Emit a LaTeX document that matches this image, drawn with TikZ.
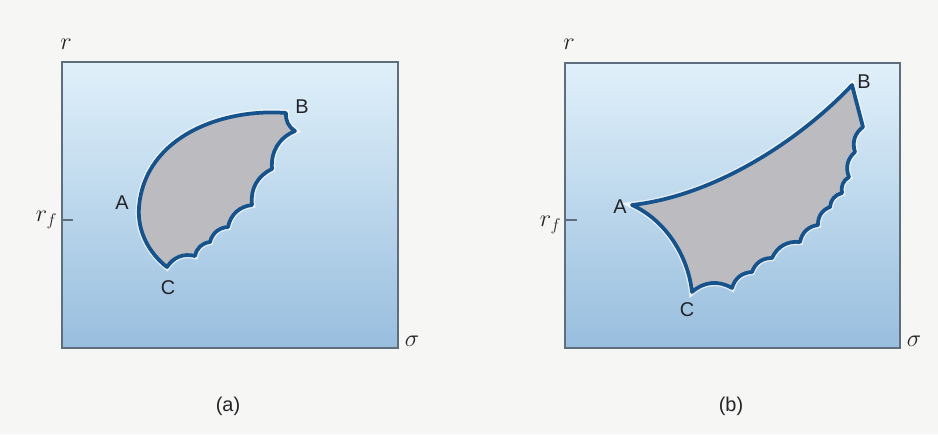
\documentclass[tikz,border=0pt]{standalone}
\usepackage{fontspec}
\setmainfont{Liberation Sans}
\usepackage{tikz}
\usetikzlibrary{positioning, calc}
\definecolor{pagegray}{RGB}{246,246,245}
\definecolor{boxtop}{RGB}{224,240,250}
\definecolor{boxbot}{RGB}{152,190,222}
\definecolor{boxframe}{RGB}{95,110,125}
\definecolor{envblue}{RGB}{22,82,140}
\definecolor{envfill}{RGB}{188,188,192}
\definecolor{txtdark}{RGB}{35,35,40}
\tikzset{
  plotbox/.style={draw=boxframe, line width=1pt, top color=boxtop, bottom color=boxbot},
  envelope/.style={draw=envblue, fill=envfill, line width=3.2pt, line join=round,
    preaction={draw=white, line width=5.4pt, opacity=0.7}},
  ptlabel/.style={font=\fontsize{17}{20}\selectfont, text=txtdark, inner sep=0pt},
  axlabel/.style={font=\fontsize{21}{25}\selectfont, text=txtdark, inner sep=0pt},
  caption/.style={font=\fontsize{17}{20}\selectfont, text=txtdark, inner sep=0pt},
  rftick/.style={draw=boxframe, line width=1pt},
  scallop/.style={bend left=36}
}

\begin{document}
\begin{tikzpicture}[x=0.03cm, y=-0.03cm]
  % ── page ───────────────────────────────────────────────────────────────────
  \fill[pagegray] (0,0) rectangle (938,434);
  \useasboundingbox (0,0) rectangle (938,434);

  % ── (a) plot box and axes ──────────────────────────────────────────────────
  \path[plotbox] (62,62) rectangle (398,348);
  \node[axlabel] (ar) at (66,44) {$r$};
  \node[axlabel] (asig) at (412,341) {$\sigma$};
  \coordinate (atick0) at (62,220);
  \coordinate (atick1) at (73,220);
  \draw[rftick] (atick0) -- (atick1);
  \node[axlabel, left=4pt of atick0] (arf) {$r_f$};

  % ── (a) envelope ───────────────────────────────────────────────────────────
  \coordinate (aB) at (286,113);
  \coordinate (aA) at (139,207);
  \coordinate (aC) at (167,267);
  \path[envelope] (aB) .. controls (225,108) and (145,135) .. (aA)
    .. controls (137,232) and (150,254) .. (aC)
    foreach \x/\y in {195/256, 210/242, 228/227, 252/205, 272/169, 295/131} { to[scallop] (\x,\y) }
    to[bend left=30] (aB) -- cycle;
  \node[ptlabel] (aAlbl) at (122,203) {A};
  \node[ptlabel] (aBlbl) at (302,107) {B};
  \node[ptlabel] (aClbl) at (168,288) {C};

  % ── (b) plot box and axes ──────────────────────────────────────────────────
  \path[plotbox] (565,63) rectangle (900,348);
  \node[axlabel] (br) at (569,44) {$r$};
  \node[axlabel] (bsig) at (914,341) {$\sigma$};
  \coordinate (btick0) at (566,220);
  \coordinate (btick1) at (577,220);
  \draw[rftick] (btick0) -- (btick1);
  \node[axlabel, left=4pt of btick0, yshift=-4pt] (brf) {$r_f$};

  % ── (b) envelope ───────────────────────────────────────────────────────────
  \coordinate (bB) at (852,85);
  \coordinate (bA) at (632,205);
  \coordinate (bC) at (692,292);
  \path[envelope] (bB) .. controls (805,135) and (720,195) .. (bA)
    .. controls (665,220) and (688,255) .. (bC)
    foreach \x/\y in {732/288, 752/272, 772/258, 800/242, 818/225, 830/207,
                      842/193, 849/177, 855/152, 863/127} { to[scallop] (\x,\y) }
    -- (bB) -- cycle;
  \node[ptlabel] (bAlbl) at (620,207) {A};
  \node[ptlabel] (bBlbl) at (864,82) {B};
  \node[ptlabel] (bClbl) at (687,310) {C};

  % ── captions ───────────────────────────────────────────────────────────────
  \node[caption] (capa) at (228,406) {(a)};
  \node[caption] (capb) at (731,406) {(b)};
\end{tikzpicture}
\end{document}
